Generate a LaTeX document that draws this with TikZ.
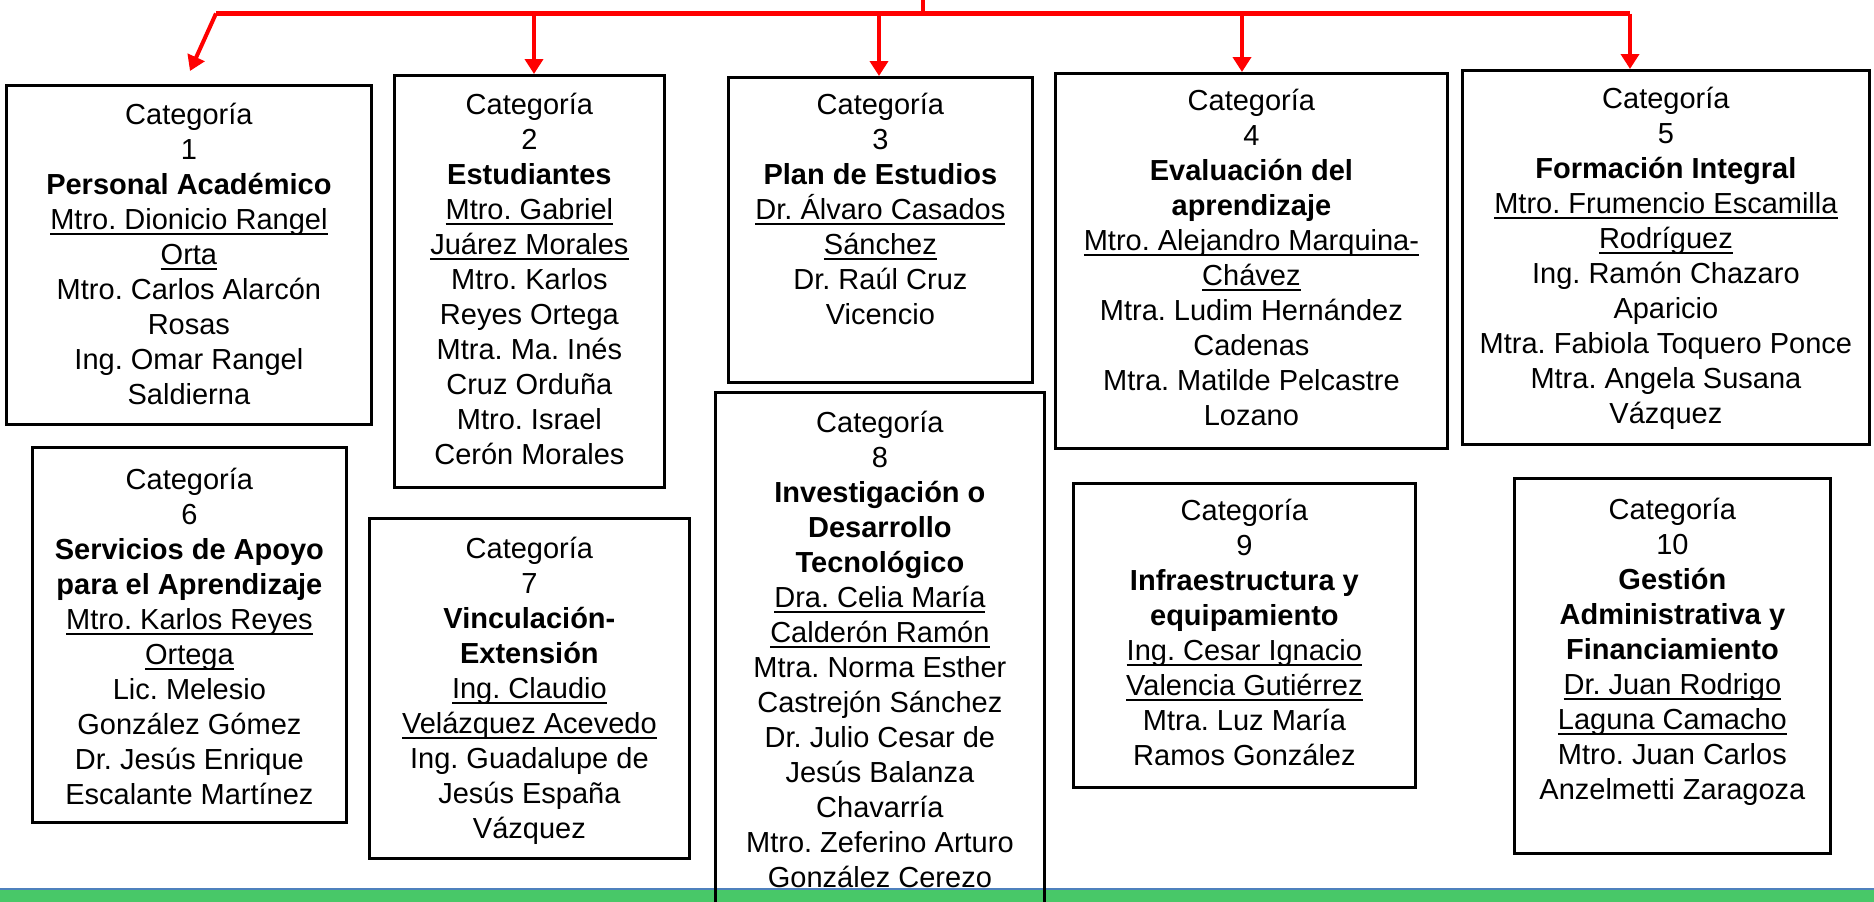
\documentclass[tikz,border=0pt]{standalone}
\usepackage{fontspec}
\setmainfont{Liberation Sans}
\usetikzlibrary{arrows.meta}
\frenchspacing
\definecolor{barGreen}{RGB}{72,200,104}
\definecolor{barBlue}{RGB}{79,129,189}
\newcommand\ulx[1]{\leavevmode\setbox0=\hbox{#1}\rlap{\rule[-5pt]{\wd0}{2pt}}\box0}
\tikzset{
  catbox/.style={draw=black, line width=2.8pt, rectangle, inner sep=0pt, anchor=north west},
  cattext/.style={anchor=north, inner sep=0pt, align=center, font=\fontsize{29pt}{35pt}\selectfont\frenchspacing},
  redbus/.style={draw=red, line width=4.5pt},
  redarr/.style={draw=red, line width=4pt, -{Triangle[length=15pt,width=18pt]}},
}
\begin{document}
\begin{tikzpicture}[x=1pt,y=-1pt]
\useasboundingbox (0,0) rectangle (1874,902);
% bottom bar
\fill[barGreen] (0,889) rectangle (1874,902);
\draw[barBlue, line width=2pt] (0,889) -- (1874,889);

% boxes
\node[catbox, minimum width=365pt, minimum height=339pt] (b1) at (5,84) {};
\node[catbox, minimum width=270pt, minimum height=412pt] (b2) at (393,74) {};
\node[catbox, minimum width=304pt, minimum height=305pt] (b3) at (727,76) {};
\node[catbox, minimum width=392pt, minimum height=375pt] (b4) at (1054,72) {};
\node[catbox, minimum width=407pt, minimum height=374pt] (b5) at (1461,69) {};
\node[catbox, minimum width=314pt, minimum height=375pt] (b6) at (31,446) {};
\node[catbox, minimum width=320pt, minimum height=340pt] (b7) at (368,517) {};
\node[catbox, minimum width=329pt, minimum height=530pt] (b8) at (714,391) {};
\node[catbox, minimum width=342pt, minimum height=304pt] (b9) at (1072,482) {};
\node[catbox, minimum width=316pt, minimum height=375pt] (b10) at (1513,477) {};

% texts
\node[cattext] (t1) at ([yshift=-19pt]b1.north) {Categoría\\1\\\textbf{Personal Académico}\\\ulx{Mtro. Dionicio Rangel}\\\ulx{Orta}\\Mtro. Carlos Alarcón\\Rosas\\Ing. Omar Rangel\\Saldierna};
\node[cattext] (t2) at ([yshift=-19pt]b2.north) {Categoría\\2\\\textbf{Estudiantes}\\\ulx{Mtro. Gabriel}\\\ulx{Juárez Morales}\\Mtro. Karlos\\Reyes Ortega\\Mtra. Ma. Inés\\Cruz Orduña\\Mtro. Israel\\Cerón Morales};
\node[cattext] (t3) at ([yshift=-17pt]b3.north) {Categoría\\3\\\textbf{Plan de Estudios}\\\ulx{Dr. Álvaro Casados}\\\ulx{Sánchez}\\Dr. Raúl Cruz\\Vicencio};
\node[cattext] (t4) at ([yshift=-17pt]b4.north) {Categoría\\4\\\textbf{Evaluación del}\\\textbf{aprendizaje}\\\ulx{Mtro. Alejandro Marquina-}\\\ulx{Chávez}\\Mtra. Ludim Hernández\\Cadenas\\Mtra. Matilde Pelcastre\\Lozano};
\node[cattext] (t5) at ([yshift=-18pt]b5.north) {Categoría\\5\\\textbf{Formación Integral}\\\ulx{Mtro. Frumencio Escamilla}\\\ulx{Rodríguez}\\Ing. Ramón Chazaro\\Aparicio\\Mtra. Fabiola Toquero Ponce\\Mtra. Angela Susana\\Vázquez};
\node[cattext] (t6) at ([yshift=-22pt]b6.north) {Categoría\\6\\\textbf{Servicios de Apoyo}\\\textbf{para el Aprendizaje}\\\ulx{Mtro. Karlos Reyes}\\\ulx{Ortega}\\Lic. Melesio\\González Gómez\\Dr. Jesús Enrique\\Escalante Martínez};
\node[cattext] (t7) at ([yshift=-20pt]b7.north) {Categoría\\7\\\textbf{Vinculación-}\\\textbf{Extensión}\\\ulx{Ing. Claudio}\\\ulx{Velázquez Acevedo}\\Ing. Guadalupe de\\Jesús España\\Vázquez};
\node[cattext] (t8) at ([yshift=-20pt]b8.north) {Categoría\\8\\\textbf{Investigación o}\\\textbf{Desarrollo}\\\textbf{Tecnológico}\\\ulx{Dra. Celia María}\\\ulx{Calderón Ramón}\\Mtra. Norma Esther\\Castrejón Sánchez\\Dr. Julio Cesar de\\Jesús Balanza\\Chavarría\\Mtro. Zeferino Arturo\\González Cerezo};
\node[cattext] (t9) at ([yshift=-17pt]b9.north) {Categoría\\9\\\textbf{Infraestructura y}\\\textbf{equipamiento}\\\ulx{Ing. Cesar Ignacio}\\\ulx{Valencia Gutiérrez}\\Mtra. Luz María\\Ramos González};
\node[cattext] (t10) at ([yshift=-21pt]b10.north) {Categoría\\10\\\textbf{Gestión}\\\textbf{Administrativa y}\\\textbf{Financiamiento}\\\ulx{Dr. Juan Rodrigo}\\\ulx{Laguna Camacho}\\Mtro. Juan Carlos\\Anzelmetti Zaragoza};

% red connectors
\coordinate (top) at (923,0);
\coordinate (jt) at (923,13.5);
\coordinate (j1) at (216,13.5);
\coordinate (j2) at (534,13.5);
\coordinate (j3) at (879,13.5);
\coordinate (j4) at (1242,13.5);
\coordinate (j5) at (1630,13.5);
\coordinate (a1) at (190,71);
\draw[redbus] (top) -- (jt);
\draw[redbus] (j1) -- (j5);
\draw[redarr] (j1) -- (a1);
\draw[redarr] (j2) -- (j2 |- b2.north);
\draw[redarr] (j3) -- (j3 |- b3.north);
\draw[redarr] (j4) -- (j4 |- b4.north);
\draw[redarr] (j5) -- (j5 |- b5.north);
\end{tikzpicture}
\end{document}
